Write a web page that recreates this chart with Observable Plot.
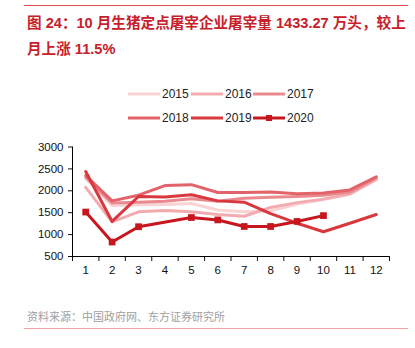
<!DOCTYPE html>
<html><head><meta charset="utf-8">
<script src="https://cdn.jsdelivr.net/npm/d3@7"></script>
<script src="https://cdn.jsdelivr.net/npm/@observablehq/plot@0.6"></script>
<style>
body{margin:0;background:#fff;}
#wrap{position:relative;width:415px;height:348px;overflow:hidden;font-family:"Liberation Sans",Arial,"Noto Sans CJK SC",sans-serif;}
.hr{position:absolute;left:24px;width:384px;height:1px;}
.t{position:absolute;left:27px;white-space:nowrap;font-size:14.6px;font-weight:bold;color:#c8202a;font-family:"Liberation Sans",Arial,"Noto Sans CJK SC",sans-serif;}
#legend{position:absolute;left:0;top:0;}
.li{position:absolute;font-size:12px;color:#222;line-height:14px;}
#chart{position:absolute;left:0;top:135px;}
#cap{position:absolute;left:27px;top:308px;font-size:11px;color:#a0a0a0;white-space:nowrap;font-family:"Noto Sans CJK SC",sans-serif;}
</style></head><body>
<div id="wrap">
  <div class="hr" style="top:5px;background:#e0484e;"></div>
  <div class="t" style="top:11px;">图 24：10 月生猪定点屠宰企业屠宰量 1433.27 万头，较上</div>
  <div class="t" style="top:37px;">月上涨 11.5%</div>
  <div id="legend"></div>
  <div id="chart"></div>
  <div id="cap">资料来源：中国政府网、东方证券研究所</div>
  <div class="hr" style="top:328px;background:#f2a2a4;"></div>
</div>
<script>
const months = [1,2,3,4,5,6,7,8,9,10,11,12];
const years = ["2015","2016","2017","2018","2019","2020"];
const colors = ["#f9d2d4","#f2acb0","#ea8a8f","#e2646a","#d8393f","#c8161e"];
const v2015 = [2280,1660,1680,1690,1710,1560,1520,1540,1700,1800,1920,2250];
const v2016 = [2080,1290,1520,1550,1520,1460,1420,1620,1730,1810,1930,2270];
const v2017 = [2310,1720,1740,1760,1820,1760,1830,1850,1870,1900,1970,2300];
const v2018 = [2350,1770,1900,2120,2140,1960,1960,1975,1930,1950,2020,2320];
const v2019 = [2440,1300,1870,1860,1910,1770,1740,1480,1260,1065,1260,1460];
const v2020 = [1515,830,1180,null,1390,1335,1185,1185,1300,1433.27];
const yTicks = [500,1000,1500,2000,2500,3000];

const series = [v2015,v2016,v2017,v2018,v2019,v2020];
const rows = [];
series.forEach((vals, k) => vals.forEach((v, i) => {
  if (v != null) rows.push({year: years[k], month: months[i], value: v});
}));
const boundaries = months.map(m => m - 0.5).concat([months[months.length-1] + 0.5]);

const plot = Plot.plot({
  width: 415, height: 150,
  marginLeft: 72, marginRight: 26, marginTop: 11.5, marginBottom: 29,
  style: {fontFamily: '"Liberation Sans", Arial, sans-serif', fontSize: "11.5px", color: "#111", background: "transparent", overflow: "visible"},
  x: {domain: [0.5, 12.5], axis: null},
  y: {domain: [500, 3000], axis: null},
  color: {domain: years, range: colors},
  marks: [
    Plot.axisY({ticks: yTicks, tickSize: 4, tickPadding: 5, tickFormat: d => String(d), label: null, fontSize: 11.5}),
    Plot.axisX({ticks: boundaries, tickSize: 5, tickFormat: () => "", label: null}),
    Plot.axisX({ticks: months, tickSize: 0, tickPadding: 9, tickFormat: d => String(d), label: null, fontSize: 11.5}),
    Plot.ruleX([0.5], {stroke: "#000"}),
    Plot.ruleY([500], {stroke: "#000"}),
    Plot.line(rows, {x: "month", y: "value", z: "year", stroke: "year", strokeWidth: 3, curve: "linear"}),
    Plot.dot(rows.filter(d => d.year === "2020"), {x: "month", y: "value", symbol: "square", fill: colors[5], stroke: "none", r: 3.8})
  ]
});
document.getElementById("chart").appendChild(plot);

// legend
const leg = document.getElementById("legend");
const colX = [127, 190, 252];
const rowY = [94, 118];
years.forEach((yr, i) => {
  const x = colX[i % 3], y = rowY[Math.floor(i / 3)];
  const ns = "http://www.w3.org/2000/svg";
  const s = document.createElementNS(ns, "svg");
  s.setAttribute("width", 34); s.setAttribute("height", 10);
  s.style.position = "absolute"; s.style.left = x + "px"; s.style.top = (y - 5) + "px";
  const l = document.createElementNS(ns, "line");
  l.setAttribute("x1", 1); l.setAttribute("x2", 33); l.setAttribute("y1", 5); l.setAttribute("y2", 5);
  l.setAttribute("stroke", colors[i]); l.setAttribute("stroke-width", 3);
  s.appendChild(l);
  if (yr === "2020") {
    const r = document.createElementNS(ns, "rect");
    r.setAttribute("x", 14); r.setAttribute("y", 2); r.setAttribute("width", 6); r.setAttribute("height", 6);
    r.setAttribute("fill", colors[i]);
    s.appendChild(r);
  }
  leg.appendChild(s);
  const t = document.createElement("div");
  t.className = "li"; t.textContent = yr;
  t.style.left = (x + 35) + "px"; t.style.top = (y - 7) + "px";
  leg.appendChild(t);
});
</script>
</body></html>
